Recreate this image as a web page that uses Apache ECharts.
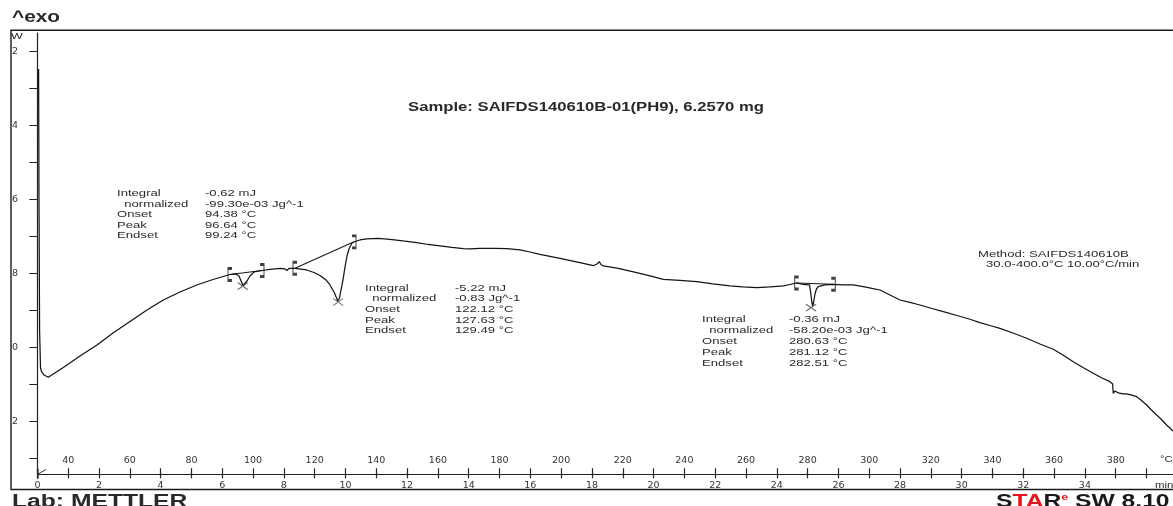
<!DOCTYPE html>
<html>
<head>
<meta charset="utf-8">
<script src="https://cdn.jsdelivr.net/npm/echarts@6/dist/echarts.min.js"></script>
<style>
html,body{margin:0;padding:0;background:#fff;}
#chart{width:1173px;height:506px;}
</style>
</head>
<body>
<div id="chart"></div>
<script>
// ---- data (time in min, heat flow signal in axis units; exo up) ----
const timeMin = [0.039,0.052,0.071,0.101,0.140,0.214,0.354,0.841,1.383,1.934,
2.454,3.006,3.557,4.086,4.628,5.170,5.699,6.251,6.446,6.543,
6.673,6.803,6.900,7.030,7.290,7.550,7.874,8.036,8.101,8.166,
8.361,8.741,8.978,9.172,9.367,9.497,9.627,9.714,9.750,9.805,
9.854,9.919,9.984,10.049,10.114,10.211,10.308,10.471,10.688,11.055,
11.444,11.866,12.311,12.678,13.067,13.457,13.823,14.041,14.366,14.852,
15.232,15.664,15.988,16.313,16.962,17.611,18.043,18.163,18.237,18.293,
18.367,18.854,19.451,19.883,20.315,20.857,21.399,21.928,22.480,22.902,
23.346,23.778,24.210,24.427,24.645,24.849,25.060,25.102,25.141,25.164,
25.190,25.239,25.287,25.346,25.563,25.833,26.147,26.481,26.806,27.088,
27.348,27.673,27.997,28.322,28.646,29.036,29.403,29.847,30.270,30.594,
30.918,31.243,31.665,32.110,32.542,32.973,33.288,33.622,33.937,34.271,
34.554,34.813,34.901,34.920,34.976,35.031,35.089,35.138,35.235,35.355,
35.495,35.680,35.819,36.004,36.144,36.329,36.469,36.653,36.761,36.858];
const heatFlow = [2.468,6.008,9.522,10.549,10.657,10.738,10.800,10.535,10.224,9.927,
9.603,9.292,8.981,8.710,8.495,8.305,8.157,8.022,8.008,8.062,
8.319,8.197,8.062,7.954,7.914,7.886,7.859,7.873,7.914,7.859,
7.854,7.900,7.968,8.049,8.170,8.305,8.495,8.665,8.738,8.657,
8.441,8.170,7.819,7.522,7.332,7.170,7.130,7.089,7.062,7.049,
7.070,7.116,7.162,7.211,7.251,7.292,7.324,7.332,7.314,7.319,
7.324,7.359,7.414,7.476,7.584,7.703,7.784,7.738,7.676,7.751,
7.792,7.854,7.973,8.062,8.151,8.184,8.216,8.278,8.332,8.359,
8.378,8.359,8.332,8.292,8.251,8.292,8.305,8.522,8.792,8.873,
8.792,8.549,8.414,8.351,8.305,8.286,8.305,8.305,8.351,8.400,
8.441,8.576,8.711,8.778,8.846,8.941,9.027,9.130,9.232,9.324,
9.400,9.476,9.603,9.746,9.900,10.043,10.197,10.378,10.535,10.692,
10.819,10.919,10.981,11.232,11.170,11.143,11.224,11.278,11.251,11.251,
11.278,11.324,11.414,11.549,11.670,11.819,11.927,12.089,12.170,12.251];

// integration limits and peaks
const limitLeftT  = [6.251, 8.361, 24.645];
const limitLeftV  = [8.022, 7.854, 8.251];
const limitRightT = [7.290, 10.276, 25.833];
const limitRightV = [7.914, 7.140, 8.286];
const peakT = [6.664, 9.763, 25.112];
const peakV = [8.335, 8.765, 8.919];

// axis ticks / labels
const yTickValues = [2, 4, 6, 8, 10, 12];
const yTickLabels = ['2', '4', '6', '8', '0', '2'];
const yMinorTicks = [2,3,4,5,6,7,8,9,10,11,12,13];
const timeTickValues = [0,2,4,6,8,10,12,14,16,18,20,22,24,26,28,30,32,34];
const timeTickLabels = ['0','2','4','6','8','10','12','14','16','18','20','22','24','26','28','30','32','34'];
const tempTickValues = [1,3,5,7,9,11,13,15,17,19,21,23,25,27,29,31,33,35];
const tempTickLabels = ['40','60','80','100','120','140','160','180','200','220','240','260','280','300','320','340','360','380'];
const allMinuteTicks = [0,1,2,3,4,5,6,7,8,9,10,11,12,13,14,15,16,17,18,19,20,21,22,23,24,25,26,27,28,29,30,31,32,33,34,35,36];

// annotation texts
const peakInfoLabels = 'Integral\n  normalized\nOnset\nPeak\nEndset';
const peakInfoValues = [
  '-0.62 mJ\n-99.30e-03 Jg^-1\n94.38 °C\n96.64 °C\n99.24 °C',
  '-5.22 mJ\n-0.83 Jg^-1\n122.12 °C\n127.63 °C\n129.49 °C',
  '-0.36 mJ\n-58.20e-03 Jg^-1\n280.63 °C\n281.12 °C\n282.51 °C'
];
const sampleTitle = 'Sample: SAIFDS140610B-01(PH9), 6.2570 mg';
const methodLine1 = 'Method: SAIFDS140610B';
const methodLine2 = '30.0-400.0°C 10.00°C/min';

// ---- chart ----
const chart = echarts.init(document.getElementById('chart'), null, {renderer: 'canvas'});
const curve = timeMin.map((t, i) => [t, heatFlow[i]]);
const SANS = '"Liberation Sans", Arial, sans-serif';
const AXFONT = '"DejaVu Sans", sans-serif';
const SX = 1.38;

function txt(x, y, text, size, weight, extra) {
  return Object.assign({
    type: 'text', x: x, y: y, scaleX: SX, silent: true,
    style: {text: text, font: (weight || 'normal') + ' ' + size + 'px ' + SANS,
      fill: '#2a2a2a', verticalAlign: 'top', align: 'left'}
  }, extra || {});
}
function block(x, y, text, lh) {
  return txt(x, y, text, 9.5, 'normal', {style: {text: text, font: '9.5px ' + SANS, fill: '#2a2a2a', verticalAlign: 'top', lineHeight: lh}});
}

const baselineSeries = limitLeftT.map((t, i) => ({
  type: 'line', data: [[t, limitLeftV[i]], [limitRightT[i], limitRightV[i]]],
  showSymbol: false, symbol: 'none', lineStyle: {color: '#1a1a1a', width: 1.1},
  silent: true, z: 3
}));

const option = {
  animation: false,
  grid: {left: 37.4, right: 0, top: 33, bottom: 31.7, containLabel: false},
  xAxis: [
    {
      type: 'value', min: 0, max: 36.86, position: 'bottom',
      axisLine: {show: true, lineStyle: {color: '#222', width: 1.2}},
      axisTick: {show: true, length: 4, customValues: allMinuteTicks, lineStyle: {color: '#222', width: 1.2}},
      axisLabel: {show: true, customValues: timeTickValues, margin: 6, fontSize: 9.5, fontFamily: AXFONT, color: '#333',
        formatter: v => timeTickLabels[timeTickValues.indexOf(v)] ?? ''},
      splitLine: {show: false}
    },
    {
      type: 'value', min: 0, max: 36.86, position: 'bottom', offset: 0,
      axisLine: {show: false},
      axisTick: {show: true, inside: true, length: 6, customValues: allMinuteTicks, lineStyle: {color: '#222', width: 1.2}},
      axisLabel: {show: true, inside: true, customValues: tempTickValues, margin: 9, fontSize: 9.5, fontFamily: AXFONT, color: '#333',
        formatter: v => tempTickLabels[tempTickValues.indexOf(v)] ?? ''},
      splitLine: {show: false}
    }
  ],
  yAxis: {
    type: 'value', inverse: true, min: 1.495, max: 13.422, offset: 9.4,
    axisLine: {show: true, lineStyle: {color: '#222', width: 1.2}},
    axisTick: {show: true, length: 8, customValues: yMinorTicks, lineStyle: {color: '#222', width: 1}},
    axisLabel: {show: true, customValues: yTickValues, margin: 10, fontSize: 9.5, fontFamily: AXFONT, color: '#333',
      formatter: v => yTickLabels[yTickValues.indexOf(v)] ?? ''},
    splitLine: {show: false}
  },
  series: [
    {
      type: 'line', data: curve, showSymbol: false, symbol: 'none',
      lineStyle: {color: '#141414', width: 1.25}, silent: true, z: 4
    },
    ...baselineSeries,
    {
      type: 'scatter', data: limitLeftT.map((t, i) => [t, limitLeftV[i]]),
      symbol: 'path://M4,0L0,0L0,12L4,12', symbolSize: [4, 12], symbolKeepAspect: false,
      itemStyle: {color: 'none', borderColor: '#111', borderWidth: 1.7}, silent: true, z: 5
    },
    {
      type: 'scatter', data: limitRightT.map((t, i) => [t, limitRightV[i]]),
      symbol: 'path://M0,0L4,0L4,12L0,12', symbolSize: [4, 12], symbolKeepAspect: false,
      itemStyle: {color: 'none', borderColor: '#111', borderWidth: 1.7}, silent: true, z: 5
    },
    {
      type: 'scatter', data: peakT.map((t, i) => [t, peakV[i]]),
      symbol: 'path://M0,0L10,8M10,0L0,8', symbolSize: [10, 7], symbolKeepAspect: false,
      itemStyle: {color: 'none', borderColor: '#444', borderWidth: 1.1}, silent: true, z: 5
    }
  ],
  graphic: [
    // frame
    {type: 'polyline', silent: true, shape: {points: [[1173, 30.3], [11, 30.3], [11, 489.5], [1173, 489.5]]},
      style: {stroke: '#1a1a1a', lineWidth: 1.4, fill: null}},
    // origin marker on the time axis
    {type: 'line', silent: true, shape: {x1: 38, y1: 474, x2: 46, y2: 469.5}, style: {stroke: '#333', lineWidth: 1}},
    {type: 'line', silent: true, shape: {x1: 38, y1: 469, x2: 38, y2: 479}, style: {stroke: '#333', lineWidth: 1.2}},
    txt(12, 10, '^exo', 16, 'bold', {scaleX: 1.3}),
    txt(11, 32, 'W', 9, 'normal'),
    txt(408, 101.5, sampleTitle, 12, 'bold', {scaleX: 1.39}),
    block(117, 188, peakInfoLabels, 10.6),
    block(205, 188, peakInfoValues[0], 10.6),
    block(365, 282.7, peakInfoLabels, 10.7),
    block(455, 282.7, peakInfoValues[1], 10.7),
    block(702, 313.5, peakInfoLabels, 11),
    block(789, 313.5, peakInfoValues[2], 11),
    txt(978, 249.5, methodLine1, 9.5, 'normal'),
    txt(986, 259.5, methodLine2, 9.5, 'normal'),
    // axis unit names
    txt(1160, 454.5, '°C', 9.5, 'normal', {scaleX: 1.2}),
    txt(1155, 480.5, 'min', 9.5, 'normal', {scaleX: 1.2}),
    // footer
    txt(12, 493, 'Lab: METTLER', 18, 'bold', {scaleX: 1.37}),
    {
      type: 'text', x: 996, y: 493, scaleX: 1.37, silent: true,
      style: {
        text: '{a|S}{r|TA}{a|R}{s|e}{a| SW 8.10}',
        verticalAlign: 'top', align: 'left',
        rich: {
          a: {font: 'bold 18px ' + SANS, fill: '#1a1a1a'},
          r: {font: 'bold 18px ' + SANS, fill: '#e8141c'},
          s: {font: 'bold 9px ' + SANS, fill: '#e8141c', verticalAlign: 'top', padding: [0, 0, 8, 0]}
        }
      }
    }
  ]
};
chart.setOption(option);
</script>
</body>
</html>
